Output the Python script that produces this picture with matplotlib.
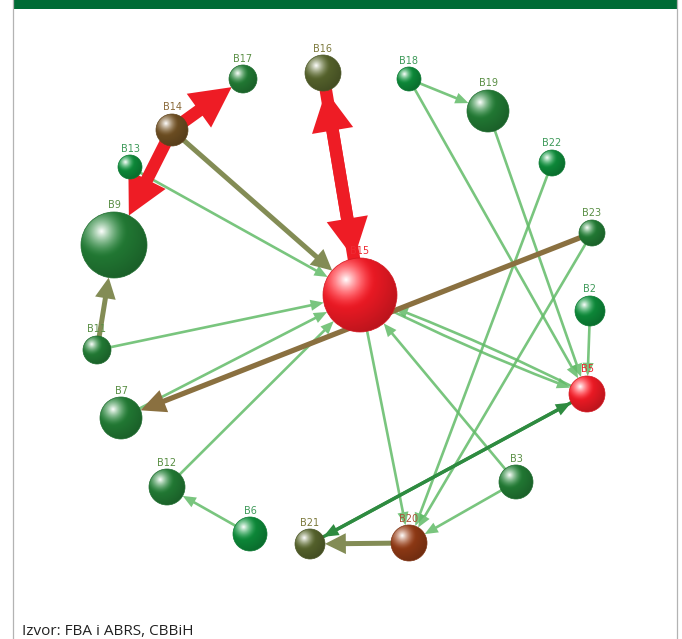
import numpy as np
import matplotlib
matplotlib.use('Agg')
import matplotlib.pyplot as plt
from matplotlib.patches import Circle, FancyArrowPatch, Rectangle, ArrowStyle

# ---- data (pixel layout of the network) ----
nodes = ['B17', 'B16', 'B18', 'B19', 'B14', 'B13', 'B22', 'B9', 'B23', 'B15',
         'B2', 'B11', 'B5', 'B7', 'B12', 'B3', 'B6', 'B21', 'B20']
node_x = [243, 323, 409, 488, 172, 130, 552, 114, 592, 360,
          590, 97, 587, 121, 167, 516, 250, 310, 409]
node_y = [79, 73, 79, 111, 130, 167, 163, 245, 233, 295,
          311, 350, 394, 418, 487, 482, 534, 544, 543]
node_r = [14, 18, 12, 21, 16, 12, 13, 33, 13, 37,
          15, 14, 18, 21, 18, 17, 17, 15, 18]
node_group = ['green', 'olive', 'bright', 'green', 'brown', 'bright', 'bright', 'green', 'green', 'red',
              'bright', 'green', 'red', 'green', 'green', 'green', 'bright', 'olive', 'rust']

edge_src = ['B14', 'B14', 'B16', 'B15',
            'B11', 'B20', 'B14',
            'B23',
            'B5', 'B21',
            'B13', 'B11', 'B7', 'B12', 'B6', 'B18', 'B18', 'B19', 'B2',
            'B15', 'B5', 'B3', 'B15', 'B22', 'B23', 'B3']
edge_dst = ['B17', 'B9', 'B15', 'B16',
            'B9', 'B21', 'B15',
            'B7',
            'B21', 'B5',
            'B15', 'B15', 'B15', 'B15', 'B12', 'B19', 'B5', 'B5', 'B5',
            'B5', 'B15', 'B15', 'B20', 'B20', 'B20', 'B20']
edge_level = [5, 5, 5, 5,
              3, 3, 3,
              4,
              2, 2,
              1, 1, 1, 1, 1, 1, 1, 1, 1,
              1, 1, 1, 1, 1, 1, 1]

base_colors = {
    'green': (0.13, 0.47, 0.20),
    'bright': (0.05, 0.53, 0.22),
    'red': (0.92, 0.10, 0.14),
    'brown': (0.42, 0.30, 0.13),
    'olive': (0.33, 0.38, 0.17),
    'rust': (0.55, 0.22, 0.08),
}
label_colors = {'green': '#5a8f45', 'bright': '#3f9a5a', 'red': '#ee2a33',
                'brown': '#8a6a3a', 'olive': '#7d7a3d', 'rust': '#a9553a'}

# level -> (color, alpha, tail width, head width, head length) in points
edge_style = {
    1: ('#62bb68', 0.85, 1.9, 8.0, 9.5),
    2: ('#2e8b40', 1.0, 2.4, 9.0, 11.0),
    3: ('#838c55', 1.0, 3.6, 15.0, 15.0),
    4: ('#8a7040', 1.0, 3.8, 17.0, 18.0),
    5: ('#ee1c25', 1.0, 9.0, 30.0, 29.0),
}

fig = plt.figure(figsize=(6.82, 6.39), dpi=100)
fig.patch.set_facecolor('white')
ax = fig.add_axes([0, 0, 1, 1])
ax.set_xlim(0, 682)
ax.set_ylim(639, 0)
ax.axis('off')

pos = {n: (x, y, r, g) for n, x, y, r, g in zip(nodes, node_x, node_y, node_r, node_group)}
px2pt = 0.72

# ---- edges ----
for s, d, lv in zip(edge_src, edge_dst, edge_level):
    col, a, tw, hw, hl = edge_style[lv]
    x0, y0, r0, _ = pos[s]
    x1, y1, r1, _ = pos[d]
    rad = 0.0
    if {s, d} == {'B15', 'B5'}:
        rad = 0.03
    arr = FancyArrowPatch((x0, y0), (x1, y1),
                          arrowstyle=ArrowStyle('simple', head_length=hl, head_width=hw, tail_width=tw),
                          connectionstyle=f'arc3,rad={rad}',
                          mutation_scale=1, shrinkA=r0 * px2pt * 0.5, shrinkB=r1 * px2pt,
                          facecolor=col, edgecolor='none', alpha=a, zorder=2 + lv * 0.1)
    ax.add_patch(arr)

# ---- nodes (shaded spheres) ----
n = 90
u = np.linspace(-1, 1, n)
U, V = np.meshgrid(u, u)
dh = np.hypot(U + 0.38, V + 0.42)
hl_mask = np.clip(1 - dh / 0.8, 0, 1) ** 1.6
shade = 1.18 - 0.42 * np.clip(dh / 1.7, 0, 1)

for name in nodes:
    x, y, r, g = pos[name]
    base = np.array(base_colors[g])
    rgb = np.clip(base[None, None, :] * shade[:, :, None], 0, 1)
    rgb = rgb * (1 - hl_mask[:, :, None]) + hl_mask[:, :, None]
    im = ax.imshow(rgb, extent=(x - r, x + r, y + r, y - r), origin='upper',
                   interpolation='bilinear', zorder=5)
    im.set_clip_path(Circle((x, y), r, transform=ax.transData))
    ax.add_patch(Circle((x, y), r, facecolor='none',
                        edgecolor=tuple(base * 0.9), lw=0.5, zorder=5.1))
    ax.text(x, y - r - 1.5, name, ha='center', va='bottom', fontsize=7,
            color=label_colors[g], zorder=6)

# ---- frame ----
ax.add_patch(Rectangle((13, 0), 664, 9, facecolor='#006b35', edgecolor='none', zorder=7))
ax.plot([13, 13], [0, 639], color='#b3b3b3', lw=0.9, zorder=7)
ax.plot([677, 677], [0, 639], color='#b3b3b3', lw=0.9, zorder=7)

ax.text(22, 635, 'Izvor: FBA i ABRS, CBBiH', ha='left', va='baseline',
        fontsize=11, family='Open Sans', color='#222222', zorder=7)

fig.savefig('out.png', dpi=100, facecolor='white')
